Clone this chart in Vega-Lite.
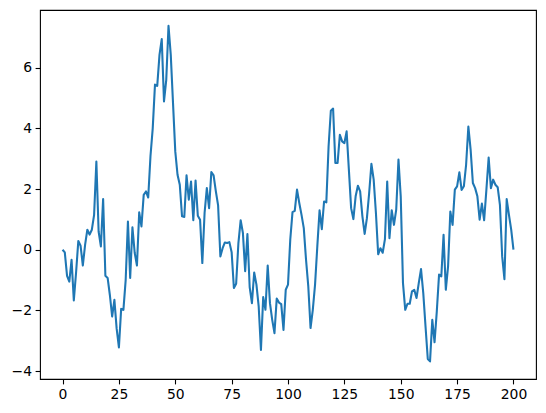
{
  "$schema": "https://vega.github.io/schema/vega-lite/v6.json",
  "width": 496,
  "height": 369,
  "autosize": {"type": "none"},
  "padding": {"left": 40, "top": 10, "right": 10, "bottom": 34},
  "background": "white",
  "config": {
    "view": {"stroke": "black", "strokeWidth": 1.1},
    "axis": {
      "grid": false,
      "domain": false,
      "tickColor": "black",
      "tickWidth": 1.1,
      "tickSize": 4.9,
      "labelPadding": 3.5,
      "labelFont": "DejaVu Sans",
      "labelFontSize": 13.9,
      "labelColor": "black",
      "title": null
    }
  },
  "data": {
    "values": [
      {"x": 0, "y": 0.0}, {"x": 1, "y": -0.09}, {"x": 2, "y": -0.86}, {"x": 3, "y": -1.05}, {"x": 4, "y": -0.33},
      {"x": 5, "y": -1.67}, {"x": 6, "y": -0.75}, {"x": 7, "y": 0.29}, {"x": 8, "y": 0.13}, {"x": 9, "y": -0.52},
      {"x": 10, "y": 0.16}, {"x": 11, "y": 0.66}, {"x": 12, "y": 0.5}, {"x": 13, "y": 0.66}, {"x": 14, "y": 1.15},
      {"x": 15, "y": 2.91}, {"x": 16, "y": 0.6}, {"x": 17, "y": 0.11}, {"x": 18, "y": 1.67}, {"x": 19, "y": -0.86},
      {"x": 20, "y": -0.93}, {"x": 21, "y": -1.5}, {"x": 22, "y": -2.2}, {"x": 23, "y": -1.65}, {"x": 24, "y": -2.6},
      {"x": 25, "y": -3.22}, {"x": 26, "y": -1.95}, {"x": 27, "y": -1.98}, {"x": 28, "y": -1.0}, {"x": 29, "y": 0.93},
      {"x": 30, "y": -0.93}, {"x": 31, "y": 0.74}, {"x": 32, "y": -0.1}, {"x": 33, "y": -0.52}, {"x": 34, "y": 1.23},
      {"x": 35, "y": 0.77}, {"x": 36, "y": 1.81}, {"x": 37, "y": 1.92}, {"x": 38, "y": 1.72}, {"x": 39, "y": 3.08},
      {"x": 40, "y": 4.0}, {"x": 41, "y": 5.44}, {"x": 42, "y": 5.4}, {"x": 43, "y": 6.42}, {"x": 44, "y": 6.94},
      {"x": 45, "y": 4.89}, {"x": 46, "y": 5.6}, {"x": 47, "y": 7.38}, {"x": 48, "y": 6.42}, {"x": 49, "y": 4.83},
      {"x": 50, "y": 3.24}, {"x": 51, "y": 2.47}, {"x": 52, "y": 2.14}, {"x": 53, "y": 1.1}, {"x": 54, "y": 1.08},
      {"x": 55, "y": 2.45}, {"x": 56, "y": 1.65}, {"x": 57, "y": 2.25}, {"x": 58, "y": 0.97}, {"x": 59, "y": 2.28},
      {"x": 60, "y": 1.12}, {"x": 61, "y": 0.99}, {"x": 62, "y": -0.44}, {"x": 63, "y": 1.21}, {"x": 64, "y": 2.03},
      {"x": 65, "y": 1.37}, {"x": 66, "y": 2.56}, {"x": 67, "y": 2.45}, {"x": 68, "y": 1.92}, {"x": 69, "y": 1.46},
      {"x": 70, "y": -0.22}, {"x": 71, "y": 0.05}, {"x": 72, "y": 0.24}, {"x": 73, "y": 0.22}, {"x": 74, "y": 0.25},
      {"x": 75, "y": -0.08}, {"x": 76, "y": -1.26}, {"x": 77, "y": -1.12}, {"x": 78, "y": 0.22}, {"x": 79, "y": 0.97},
      {"x": 80, "y": 0.55}, {"x": 81, "y": -0.71}, {"x": 82, "y": 0.52}, {"x": 83, "y": -1.23}, {"x": 84, "y": -1.76},
      {"x": 85, "y": -0.75}, {"x": 86, "y": -1.15}, {"x": 87, "y": -1.87}, {"x": 88, "y": -3.3}, {"x": 89, "y": -1.56},
      {"x": 90, "y": -1.98}, {"x": 91, "y": -0.52}, {"x": 92, "y": -1.76}, {"x": 93, "y": -2.31}, {"x": 94, "y": -2.75},
      {"x": 95, "y": -1.61}, {"x": 96, "y": -1.74}, {"x": 97, "y": -1.79}, {"x": 98, "y": -2.64}, {"x": 99, "y": -1.32},
      {"x": 100, "y": -1.15}, {"x": 101, "y": 0.33}, {"x": 102, "y": 1.24}, {"x": 103, "y": 1.28}, {"x": 104, "y": 1.98},
      {"x": 105, "y": 1.54}, {"x": 106, "y": 1.15}, {"x": 107, "y": 0.71}, {"x": 108, "y": -0.33}, {"x": 109, "y": -1.21},
      {"x": 110, "y": -2.58}, {"x": 111, "y": -1.98}, {"x": 112, "y": -1.15}, {"x": 113, "y": 0.11}, {"x": 114, "y": 1.3},
      {"x": 115, "y": 0.68}, {"x": 116, "y": 1.59}, {"x": 117, "y": 1.56}, {"x": 118, "y": 3.4}, {"x": 119, "y": 4.58},
      {"x": 120, "y": 4.65}, {"x": 121, "y": 2.86}, {"x": 122, "y": 2.86}, {"x": 123, "y": 3.79}, {"x": 124, "y": 3.57},
      {"x": 125, "y": 3.51}, {"x": 126, "y": 3.9}, {"x": 127, "y": 2.64}, {"x": 128, "y": 1.37}, {"x": 129, "y": 1.01},
      {"x": 130, "y": 1.76}, {"x": 131, "y": 2.11}, {"x": 132, "y": 1.92}, {"x": 133, "y": 1.1}, {"x": 134, "y": 0.52},
      {"x": 135, "y": 1.04}, {"x": 136, "y": 1.87}, {"x": 137, "y": 2.83}, {"x": 138, "y": 2.31}, {"x": 139, "y": 1.21},
      {"x": 140, "y": -0.15}, {"x": 141, "y": 0.05}, {"x": 142, "y": -0.1}, {"x": 143, "y": 0.35}, {"x": 144, "y": 2.25},
      {"x": 145, "y": 0.38}, {"x": 146, "y": 1.3}, {"x": 147, "y": 0.82}, {"x": 148, "y": 1.32}, {"x": 149, "y": 2.97},
      {"x": 150, "y": 1.76}, {"x": 151, "y": -1.1}, {"x": 152, "y": -1.98}, {"x": 153, "y": -1.78}, {"x": 154, "y": -1.78},
      {"x": 155, "y": -1.37}, {"x": 156, "y": -1.32}, {"x": 157, "y": -1.59}, {"x": 158, "y": -1.1}, {"x": 159, "y": -0.64},
      {"x": 160, "y": -1.43}, {"x": 161, "y": -2.53}, {"x": 162, "y": -3.6}, {"x": 163, "y": -3.68}, {"x": 164, "y": -2.31},
      {"x": 165, "y": -3.05}, {"x": 166, "y": -2.03}, {"x": 167, "y": -0.82}, {"x": 168, "y": -0.88}, {"x": 169, "y": 0.49},
      {"x": 170, "y": -1.32}, {"x": 171, "y": -0.55}, {"x": 172, "y": 1.26}, {"x": 173, "y": 0.82}, {"x": 174, "y": 1.98},
      {"x": 175, "y": 2.09}, {"x": 176, "y": 2.55}, {"x": 177, "y": 1.97}, {"x": 178, "y": 2.09}, {"x": 179, "y": 2.8},
      {"x": 180, "y": 4.06}, {"x": 181, "y": 3.3}, {"x": 182, "y": 2.2}, {"x": 183, "y": 2.03}, {"x": 184, "y": 1.76},
      {"x": 185, "y": 0.99}, {"x": 186, "y": 1.52}, {"x": 187, "y": 0.97}, {"x": 188, "y": 1.98}, {"x": 189, "y": 3.04},
      {"x": 190, "y": 2.03}, {"x": 191, "y": 2.31}, {"x": 192, "y": 2.14}, {"x": 193, "y": 2.06}, {"x": 194, "y": 1.48},
      {"x": 195, "y": -0.22}, {"x": 196, "y": -0.97}, {"x": 197, "y": 1.67}, {"x": 198, "y": 1.15}, {"x": 199, "y": 0.66},
      {"x": 200, "y": 0.0}
    ]
  },
  "mark": {"type": "line", "color": "#1f77b4", "strokeWidth": 2.08, "strokeJoin": "round", "strokeCap": "butt"},
  "encoding": {
    "x": {
      "field": "x",
      "type": "quantitative",
      "scale": {"domain": [-10, 210], "nice": false, "zero": false},
      "axis": {"values": [0, 25, 50, 75, 100, 125, 150, 175, 200]}
    },
    "y": {
      "field": "y",
      "type": "quantitative",
      "scale": {"domain": [-4.26, 7.9], "nice": false, "zero": false},
      "axis": {"values": [-4, -2, 0, 2, 4, 6], "labelExpr": "replace(datum.label, '-', '\u2212')"}
    }
  }
}
